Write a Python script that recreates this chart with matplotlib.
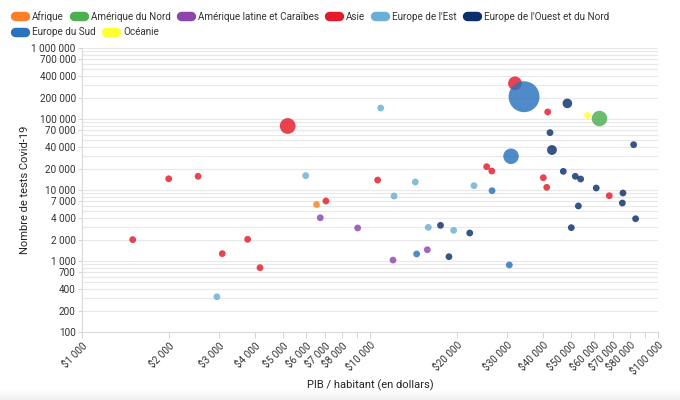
import matplotlib
matplotlib.use("Agg")
import matplotlib.pyplot as plt
from matplotlib.lines import Line2D
from matplotlib.ticker import FixedLocator, FuncFormatter, NullFormatter
import numpy as np

plt.rcParams['font.family'] = ['Roboto', 'DejaVu Sans']

# Régions (ordre de la légende)
regions = ["Afrique", "Amérique du Nord", "Amérique latine et Caraïbes", "Asie",
           "Europe de l'Est", "Europe de l'Ouest et du Nord", "Europe du Sud", "Océanie"]
couleurs = ["#fd7f28", "#4caf50", "#8e44ad", "#e41a2b",
            "#6baed6", "#0b2f6b", "#2a72be", "#ffff33"]

# Données par pays : région (indice), PIB / habitant, nombre de tests, poids de la bulle
region_idx = [0,
              1,
              2, 2, 2, 2,
              3, 3, 3, 3, 3, 3, 3, 3, 3, 3, 3, 3, 3, 3, 3, 3,
              4, 4, 4, 4, 4, 4, 4, 4,
              5, 5, 5, 5, 5, 5, 5, 5, 5, 5, 5, 5, 5, 5, 5, 5,
              6, 6, 6, 6, 6,
              7]
pib = [6500,
       62400,
       6720, 9060, 12020, 15810,
       1500, 2000, 2530, 3070, 3760, 4150, 5180, 7030, 10630, 25420, 26480, 31870, 39980, 41080, 41400, 67740,
       2940, 5980, 10890, 12120, 14360, 15940, 19520, 22960,
       17570, 18800, 22200, 42170, 42830, 46900, 48450, 50000, 51620, 52900, 53880, 61030, 75200, 75570, 82300, 83600,
       14520, 26530, 30460, 30880, 34270,
       56500]
tests = [6400,
         103000,
         4070, 2920, 1030, 1440,
         2000, 14400, 15600, 1270, 2020, 805, 79700, 7000, 13800, 21300, 18500, 318000, 14900, 10900, 125600, 8310,
         314, 15900, 142900, 8230, 12970, 2980, 2700, 11500,
         3180, 1150, 2480, 64300, 36600, 18300, 166000, 2950, 15600, 5960, 14290, 10670, 6560, 9070, 43500, 3940,
         1256, 9780, 879, 29850, 206000,
         112800]
poids = [1,
         5.2,
         1, 1, 1, 1,
         1, 1, 1, 1, 1, 1, 5.4, 1, 1, 1, 1, 4.1, 1, 1, 1, 1,
         1, 1, 1, 1, 1, 1, 1, 1,
         1, 1, 1, 1, 2.1, 1, 2.0, 1, 1, 1, 1, 1, 1, 1, 1, 1,
         1, 1, 1, 5.2, 20.7,
         1]

ticks_y = [100, 200, 400, 700, 1000, 2000, 4000, 7000, 10000, 20000, 40000, 70000,
           100000, 200000, 400000, 700000, 1000000]
ticks_x = [1000, 2000, 3000, 4000, 5000, 6000, 7000, 8000, 9000, 10000,
           20000, 30000, 40000, 50000, 60000, 70000, 80000, 90000, 100000]
sans_label_x = [9000, 90000]


def espace(v):
    return f"{int(round(v)):,}".replace(",", " ")


fig = plt.figure(figsize=(6.8, 4.0), dpi=100)

# léger dégradé gris en bas de l'image
fond = fig.add_axes([0, 0, 1, 10 / 400], zorder=-5)
gris = np.linspace(1.0, 0.94, 20)
fond.imshow(np.repeat(gris.reshape(-1, 1, 1), 3, axis=2), aspect="auto",
            extent=(0, 1, 0, 1))
fond.axis("off")

ax = fig.add_axes([82 / 680, 68 / 400, 576 / 680, 284 / 400])

region_idx = np.array(region_idx)
pib = np.array(pib)
tests = np.array(tests)
poids = np.array(poids)
rayon_px = 3.4 * np.sqrt(poids)
taille = (2 * rayon_px * 0.72) ** 2

for i, nom in enumerate(regions):
    m = region_idx == i
    ax.scatter(pib[m], tests[m], s=taille[m], color=couleurs[i], alpha=0.82,
               linewidths=0, zorder=3)

ax.set_xscale("log")
ax.set_yscale("log")
ax.set_xlim(1000, 100000)
ax.set_ylim(100, 1000000)

# grille horizontale à chaque multiple
mineurs = [k * 10 ** e for e in range(2, 6) for k in range(1, 10)]
ax.yaxis.set_major_locator(FixedLocator(ticks_y))
ax.yaxis.set_minor_locator(FixedLocator(mineurs))
ax.yaxis.set_major_formatter(FuncFormatter(lambda v, p: espace(v)))
ax.yaxis.set_minor_formatter(NullFormatter())
ax.grid(True, axis="y", which="both", color="#e8e8e8", lw=0.8, zorder=0)
ax.tick_params(axis="y", which="major", length=3, width=0.6, color="#cccccc",
               labelsize=7.2, labelcolor="#333333", pad=1.5)
ax.tick_params(axis="y", which="minor", length=0)

ax.xaxis.set_major_locator(FixedLocator(ticks_x))
ax.xaxis.set_minor_locator(FixedLocator([]))
ax.xaxis.set_major_formatter(FuncFormatter(
    lambda v, p: "" if round(v) in sans_label_x else "$" + espace(v)))
ax.tick_params(axis="x", which="major", length=4, width=0.6, color="#cccccc",
               labelsize=7.2, labelcolor="#333333", pad=2)
for lab in ax.get_xticklabels():
    lab.set_rotation(45)
    lab.set_ha("right")
    lab.set_va("top")
    lab.set_rotation_mode("anchor")

for cote in ["top", "right"]:
    ax.spines[cote].set_visible(False)
for cote in ["left", "bottom"]:
    ax.spines[cote].set_color("#d9d9d9")
    ax.spines[cote].set_linewidth(0.8)

ax.set_xlabel("PIB / habitant (en dollars)", fontsize=8, color="#222222")
ax.xaxis.set_label_coords(0.5, -53 / 284)
ax.xaxis.label.set_va("center")
ax.set_ylabel("Nombre de tests Covid-19", fontsize=8, color="#222222")
ax.yaxis.set_label_coords(-57 / 576, 0.5)
ax.yaxis.label.set_va("center")

# légende en deux lignes, pastilles arrondies
poignees = [Line2D([], [], color=c, lw=6.8, solid_capstyle="round") for c in couleurs]
opts = dict(frameon=False, fontsize=7.1, handlelength=1.0, handletextpad=0.75,
            columnspacing=1.0, borderaxespad=0, borderpad=0, labelcolor="#333333")
leg1 = fig.legend(poignees[:6], regions[:6], loc="upper left", ncol=6,
                  bbox_to_anchor=(15 / 680, 1 - 11 / 400), **opts)
leg2 = fig.legend(poignees[6:], regions[6:], loc="upper left", ncol=2,
                  bbox_to_anchor=(15 / 680, 1 - 27 / 400), **opts)

fig.savefig("out.png", dpi=100)
